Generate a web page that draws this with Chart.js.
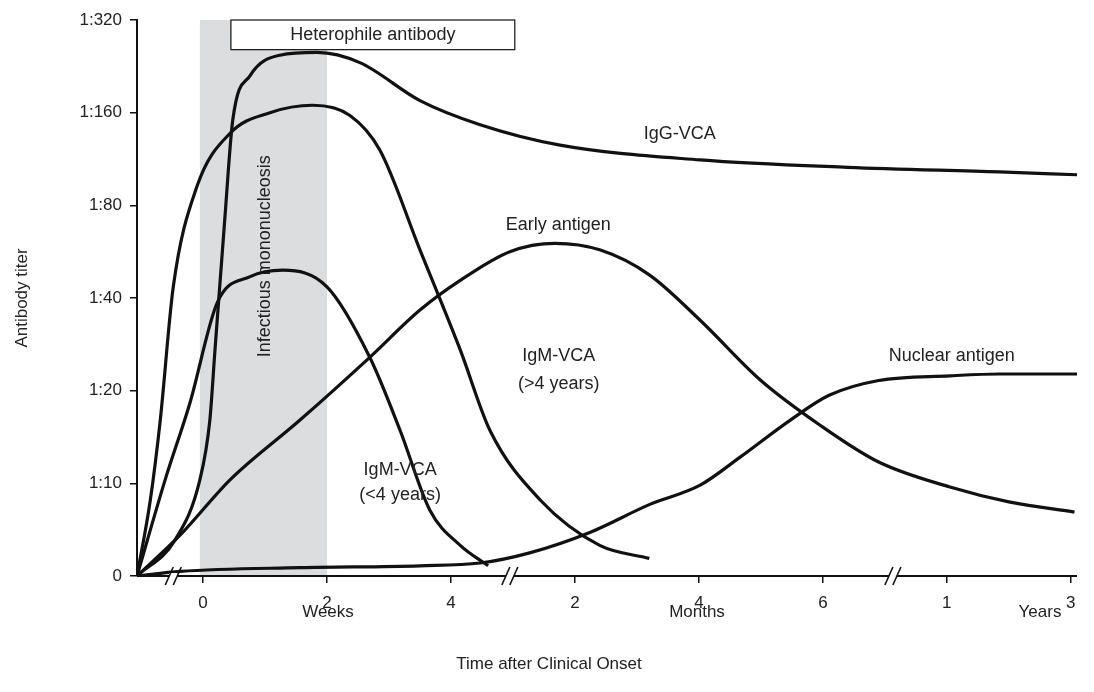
<!DOCTYPE html>
<html>
<head>
<meta charset="utf-8">
<script src="https://cdn.jsdelivr.net/npm/chart.js@4"></script>
<style>
  html, body { margin: 0; padding: 0; background: #fff; }
  #wrap { width: 1094px; height: 692px; }
</style>
</head>
<body>
<div id="wrap"><canvas id="ebv-chart"></canvas></div>
<script>
// x: position in "weeks" units (months/years share the same axis after breaks)
// y: titer level, 0 = "0", 1 = 1:10, ... 6 = 1:320
const yTickLabels = ['0', '1:10', '1:20', '1:40', '1:80', '1:160', '1:320'];
const xTickPositions = [0, 2, 4, 6, 8, 10, 12, 14];
const xTickLabels = ['0', '2', '4', '2', '4', '6', '1', '3'];

const heterophile = [[-1.065,0],[-0.45,0.39],[-0.05,1.04],[0.11,1.68],[0.19,2.41],[0.35,3.84],[0.48,4.92],[0.76,5.40],[1.24,5.62],[1.84,5.65],[2.53,5.54],[3.5,5.13],[4.47,4.87],[5.76,4.65],[8.02,4.49],[10.4,4.41],[12.85,4.36],[14.1,4.33]];
const igmOver4 = [[-1.065,0],[-0.85,0.82],[-0.69,1.68],[-0.48,3.12],[-0.1,4.2],[0.44,4.78],[1.08,5.0],[1.77,5.08],[2.37,4.97],[2.85,4.6],[3.5,3.52],[4.15,2.44],[4.63,1.57],[5.44,0.82],[6.4,0.33],[7.2,0.19]];
const igmUnder4 = [[-1.065,0],[-0.61,1.04],[-0.21,1.87],[0.23,2.95],[0.76,3.23],[1.29,3.3],[2,3.12],[2.69,2.36],[3.18,1.57],[3.66,0.71],[4.15,0.33],[4.6,0.11]];
const earlyAntigen = [[-1.065,0],[-0.37,0.44],[0.44,1.04],[1.56,1.68],[2.69,2.36],[3.5,2.87],[4.15,3.19],[4.95,3.5],[5.68,3.59],[6.4,3.52],[7.2,3.25],[8.02,2.76],[9,2.11],[9.95,1.63],[10.9,1.23],[12.05,0.96],[13,0.8],[14.06,0.69]];
const nuclearAntigen = [[-1.065,0],[-0.37,0.05],[1.56,0.09],[3.5,0.11],[4.47,0.14],[5.27,0.25],[6.24,0.47],[7.2,0.77],[8.02,0.98],[8.66,1.28],[9.47,1.68],[10.1,1.95],[10.9,2.11],[12.05,2.16],[12.85,2.18],[14.1,2.18]];

const axisBreaks = [-0.48, 4.95, 11.13];

const curveLabels = [
    { text: 'IgG-VCA', x: 7.69, y: 4.77 },
    { text: 'Early antigen', x: 5.73, y: 3.79 },
    { text: 'IgM-VCA', x: 5.74, y: 2.37 },
    { text: '(>4 years)', x: 5.74, y: 2.07 },
    { text: 'IgM-VCA', x: 3.18, y: 1.14 },
    { text: '(<4 years)', x: 3.18, y: 0.87 },
    { text: 'Nuclear antigen', x: 12.08, y: 2.37 },
];

const FONT = '"Liberation Sans", Arial, sans-serif';

function toPoints(arr) {
    return arr.map(p => ({ x: p[0], y: p[1] }));
}

function makeSet(arr) {
    return {
        data: toPoints(arr),
        borderColor: '#111',
        borderWidth: 3.2,
        pointRadius: 0,
        fill: false,
        cubicInterpolationMode: 'monotone',
    };
}

const decorPlugin = {
    id: 'decor',
    beforeDatasetsDraw(chart) {
        const ctx = chart.ctx;
        const x = chart.scales.x, y = chart.scales.y;
        // shaded infectious mononucleosis band
        ctx.save();
        ctx.fillStyle = '#dcdddf';
        const x0 = x.getPixelForValue(-0.05), x1 = x.getPixelForValue(2);
        ctx.fillRect(x0, y.getPixelForValue(6), x1 - x0, y.getPixelForValue(0) - y.getPixelForValue(6));
        ctx.fillStyle = '#222';
        ctx.font = '18px ' + FONT;
        ctx.translate(x.getPixelForValue(1.0), y.getPixelForValue(3.45));
        ctx.rotate(-Math.PI / 2);
        ctx.textAlign = 'center';
        ctx.textBaseline = 'middle';
        ctx.fillText('Infectious mononucleosis', 0, 0);
        ctx.restore();
    },
    afterDatasetsDraw(chart) {
        const ctx = chart.ctx;
        const x = chart.scales.x, y = chart.scales.y;
        ctx.save();
        // heterophile antibody box
        const bx0 = x.getPixelForValue(0.45), bx1 = x.getPixelForValue(5.03);
        const by0 = y.getPixelForValue(6), by1 = y.getPixelForValue(5.68);
        ctx.fillStyle = '#fff';
        ctx.fillRect(bx0, by0, bx1 - bx0, by1 - by0);
        ctx.strokeStyle = '#111';
        ctx.lineWidth = 1.2;
        ctx.strokeRect(bx0, by0, bx1 - bx0, by1 - by0);
        ctx.fillStyle = '#222';
        ctx.font = '18px ' + FONT;
        ctx.textAlign = 'center';
        ctx.textBaseline = 'middle';
        ctx.fillText('Heterophile antibody', (bx0 + bx1) / 2, (by0 + by1) / 2);

        curveLabels.forEach(l => {
            ctx.fillText(l.text, x.getPixelForValue(l.x), y.getPixelForValue(l.y));
        });

        // x axis line with breaks
        const ay = y.getPixelForValue(0);
        ctx.strokeStyle = '#111';
        ctx.lineWidth = 2;
        ctx.beginPath();
        ctx.moveTo(x.left, ay);
        ctx.lineTo(x.right, ay);
        ctx.stroke();
        axisBreaks.forEach(b => {
            const bp = x.getPixelForValue(b);
            ctx.fillStyle = '#fff';
            ctx.fillRect(bp - 4, ay - 3, 8, 6);
            ctx.lineWidth = 1.6;
            [-4, 4].forEach(d => {
                ctx.beginPath();
                ctx.moveTo(bp + d - 4, ay + 9);
                ctx.lineTo(bp + d + 4, ay - 9);
                ctx.stroke();
            });
        });

        // axis titles
        ctx.fillStyle = '#222';
        ctx.font = '17px ' + FONT;
        ctx.fillText('Weeks', 328, 612);
        ctx.fillText('Months', 697, 612);
        ctx.fillText('Years', 1040, 612);
        ctx.fillText('Time after Clinical Onset', 549, 664);
        ctx.translate(22, 298);
        ctx.rotate(-Math.PI / 2);
        ctx.fillText('Antibody titer', 0, 0);
        ctx.restore();
    }
};

new Chart(document.getElementById('ebv-chart'), {
    type: 'line',
    data: {
        datasets: [heterophile, igmOver4, igmUnder4, earlyAntigen, nuclearAntigen].map(makeSet),
    },
    options: {
        responsive: true,
        maintainAspectRatio: false,
        animation: false,
        layout: { padding: { top: 20, right: 17, left: 0, bottom: 0 } },
        plugins: { legend: { display: false }, tooltip: { enabled: false } },
        scales: {
            x: {
                type: 'linear',
                min: -1.065,
                max: 14.1,
                afterBuildTicks: s => { s.ticks = xTickPositions.map(v => ({ value: v })); },
                afterFit: s => { s.height = 116; },
                grid: { display: true, drawOnChartArea: false, tickLength: 7, color: '#111', lineWidth: 1.5 },
                border: { display: false },
                ticks: {
                    color: '#222',
                    font: { family: FONT, size: 17 },
                    padding: 10,
                    maxRotation: 0,
                    callback: (v) => xTickLabels[xTickPositions.indexOf(v)],
                },
            },
            y: {
                min: 0,
                max: 6,
                afterBuildTicks: s => { s.ticks = yTickLabels.map((_, i) => ({ value: i })); },
                afterFit: s => { s.width = 137; },
                grid: { display: true, drawOnChartArea: false, tickLength: 7, color: '#111', lineWidth: 1.5 },
                border: { display: true, color: '#111', width: 2 },
                ticks: {
                    color: '#222',
                    font: { family: FONT, size: 17 },
                    padding: 8,
                    callback: (v) => yTickLabels[v],
                },
            },
        },
    },
    plugins: [decorPlugin],
});
</script>
</body>
</html>
